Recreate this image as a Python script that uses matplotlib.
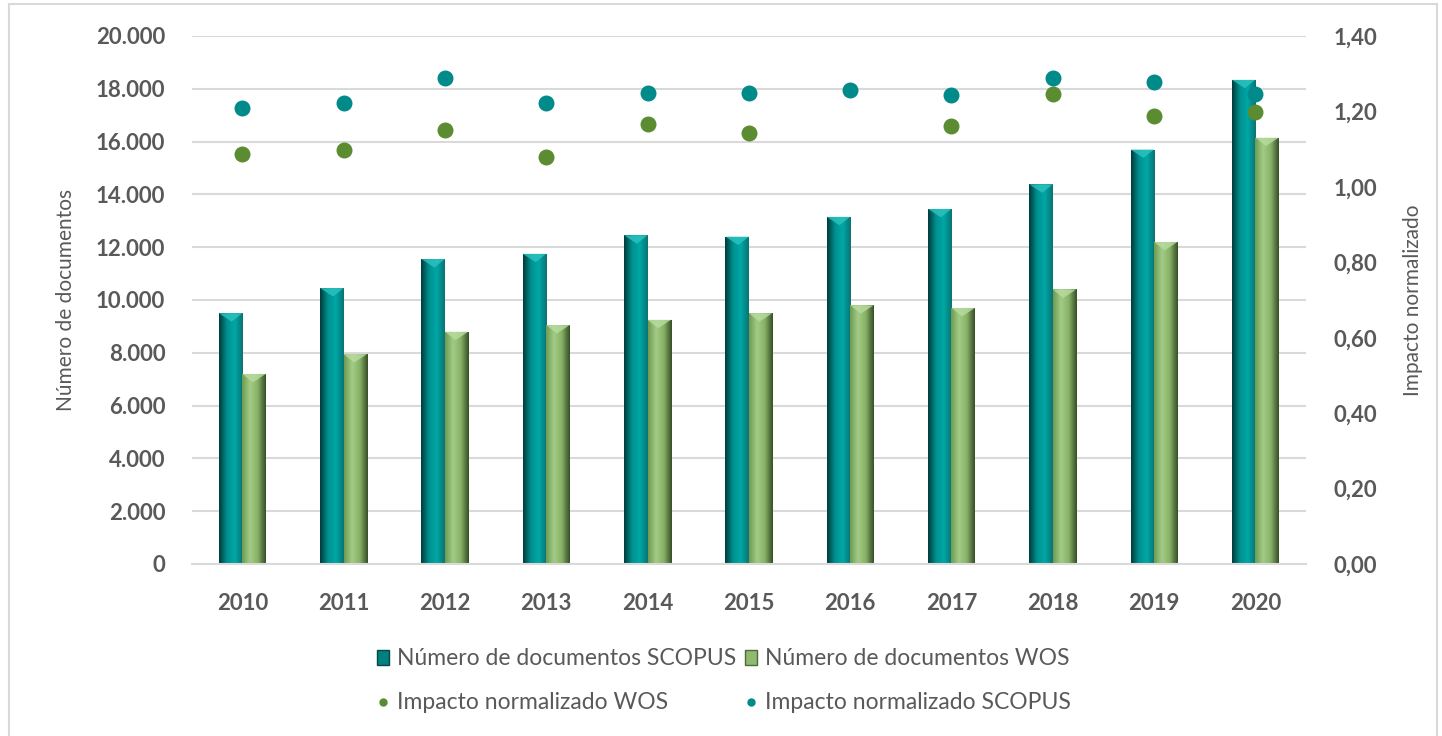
import numpy as np
import matplotlib

matplotlib.use("Agg")
import matplotlib.pyplot as plt
from matplotlib.colors import LinearSegmentedColormap
from matplotlib.lines import Line2D
from matplotlib.patches import Polygon, Rectangle

plt.rcParams["font.family"] = ["Lato", "DejaVu Sans"]

years = ["2010", "2011", "2012", "2013", "2014", "2015", "2016", "2017", "2018", "2019", "2020"]
docs_scopus = [9500, 10450, 11550, 11750, 12450, 12400, 13150, 13450, 14380, 15700, 18340]
docs_wos = [7200, 7950, 8800, 9050, 9250, 9500, 9800, 9700, 10400, 12200, 16150]
impact_wos = [1.087, 1.098, 1.151, 1.079, 1.166, 1.142, np.nan, 1.161, 1.247, 1.188, 1.199]
impact_scopus = [1.209, 1.221, 1.289, 1.221, 1.249, 1.249, 1.257, 1.243, 1.289, 1.278, 1.247]

GREY = "#595959"
TEAL_STOPS = ["#0a7373", "#00a7a7", "#009090", "#023c3c"]
GREEN_STOPS = ["#6f9a52", "#a3cd86", "#86b166", "#374f27"]

fig = plt.figure(figsize=(14.42, 7.36), dpi=100)
ax = fig.add_axes([0.1329, 0.2337, 0.7728, 0.7174])
ax2 = ax.twinx()

x = np.arange(len(years))
width = 0.232

bars_scopus = ax.bar(x, docs_scopus, width=-width, align="edge", color="#00928f", zorder=2)
bars_wos = ax.bar(x, docs_wos, width=width, align="edge", color="#8fba70", zorder=2)


def shade_bars(bars, stops, cap_color):
    cmap = LinearSegmentedColormap.from_list("bar", stops)
    grad = np.linspace(0, 1, 64).reshape(1, -1)
    cap = 320  # depth of the bevel in data units
    for b in bars:
        x0, w, h = b.get_x(), b.get_width(), b.get_height()
        im = ax.imshow(grad, cmap=cmap, extent=(x0, x0 + w, 0, h), aspect="auto",
                       interpolation="bicubic", zorder=2.1)
        im.set_clip_path(b)
        tri = Polygon([(x0, h), (x0 + w, h), (x0 + w * 0.45, h - cap)], closed=True,
                      facecolor=cap_color, edgecolor="none", alpha=0.8, zorder=2.2)
        ax.add_patch(tri)


shade_bars(bars_scopus, TEAL_STOPS, "#2ec4c0")
shade_bars(bars_wos, GREEN_STOPS, "#b9dca0")
ax.set_xlim(-0.5, len(years) - 0.5)
ax.set_ylim(0, 20000)
ax2.set_ylim(0, 1.4)

ax2.scatter(x, impact_wos, s=110, color="#5b8c32", zorder=3)
ax2.scatter(x, impact_scopus, s=110, color="#008a8a", zorder=3)

ax.set_yticks(np.arange(0, 20001, 2000))
ax.set_yticklabels([f"{v:,}".replace(",", ".") for v in range(0, 20001, 2000)])
ax2.set_yticks(np.arange(0, 1.41, 0.2))
ax2.set_yticklabels([f"{v:.2f}".replace(".", ",") for v in np.arange(0, 1.41, 0.2)])
ax.set_xticks(x)
ax.set_xticklabels(years)

ax.grid(axis="y", color="#d9d9d9", linewidth=1.5, zorder=0)
ax.set_axisbelow(True)
for a in (ax, ax2):
    for s in a.spines.values():
        s.set_visible(False)
ax.spines["bottom"].set_visible(True)
ax.spines["bottom"].set_color("#d9d9d9")
ax.spines["bottom"].set_linewidth(1.5)

ax.tick_params(axis="y", length=0, pad=19, labelsize=16, labelcolor=GREY)
ax.tick_params(axis="x", length=0, pad=21, labelsize=16, labelcolor=GREY)
ax2.tick_params(axis="y", length=0, pad=20, labelsize=16, labelcolor=GREY)
for lab in ax.get_xticklabels() + ax.get_yticklabels() + ax2.get_yticklabels():
    lab.set_fontweight("bold")

fig.text(0.046, 0.592, "Número de documentos", rotation=90, ha="center", va="center",
         fontsize=15, color=GREY)
fig.text(0.980, 0.592, "Impacto normalizado", rotation=90, ha="center", va="center",
         fontsize=15, color=GREY)

handles = [
    Rectangle((0, 0), 1, 1, facecolor="#00807f", edgecolor="#034848"),
    Line2D([], [], linestyle="none", marker="o", markersize=5, color="#5b8c32"),
    Rectangle((0, 0), 1, 1, facecolor="#8fba70", edgecolor="#4d6b38"),
    Line2D([], [], linestyle="none", marker="o", markersize=5, color="#008a8a"),
]
labels = [
    "Número de documentos SCOPUS",
    "Impacto normalizado WOS",
    "Número de documentos WOS",
    "Impacto normalizado SCOPUS",
]
fig.legend(handles, labels, ncol=2, loc="center", bbox_to_anchor=(0.502, 0.075),
           frameon=False, fontsize=16.5, labelcolor=GREY, handlelength=0.55,
           handleheight=0.6, handletextpad=0.35, columnspacing=0.35, labelspacing=1.0)

# light frame around the chart area
fig.add_artist(Line2D([9 / 1442, 9 / 1442], [0, 1 - 4 / 736], color="#d9d9d9", lw=1.5))
fig.add_artist(Line2D([9 / 1442, 1437 / 1442], [1 - 4 / 736, 1 - 4 / 736], color="#d9d9d9", lw=1.5))
fig.add_artist(Line2D([1437 / 1442, 1437 / 1442], [0, 1 - 4 / 736], color="#d9d9d9", lw=1.5))

fig.savefig("out.png", dpi=100)
